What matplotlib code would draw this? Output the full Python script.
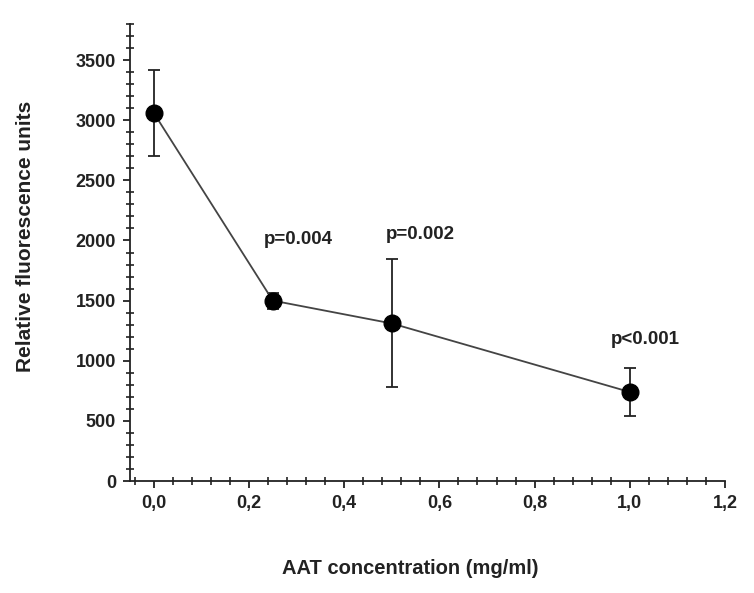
import matplotlib.pyplot as plt
from matplotlib.ticker import MultipleLocator, FuncFormatter

plt.rcParams['font.family'] = ['Liberation Sans', 'DejaVu Sans']
plt.rcParams['font.weight'] = 'bold'

conc = [0.0, 0.25, 0.5, 1.0]
rfu = [3060, 1500, 1310, 740]
err_low = [360, 70, 530, 200]
err_high = [355, 60, 540, 200]
p_labels = ['p=0.004', 'p=0.002', 'p<0.001']
p_x = [0.303, 0.559, 1.032]
p_y = [2008, 2050, 1175]

fig = plt.figure(figsize=(7.54, 5.93), dpi=100)
ax = fig.add_axes([130/754, 1-481/593, 595/754, 457/593])

ax.errorbar(conc, rfu, yerr=[err_low, err_high], fmt='-o', color='#444444',
            lw=1.3, ms=12, mfc='black', mec='black', ecolor='#222222',
            elinewidth=1.3, capsize=4.5, capthick=1.3, zorder=3)

for t, x, y in zip(p_labels, p_x, p_y):
    ax.text(x, y, t, ha='center', va='center', fontsize=13.5, fontweight='bold',
            color='#222222')

ax.set_xlim(-0.05, 1.2)
ax.set_ylim(0, 3800)
ax.xaxis.set_major_locator(MultipleLocator(0.2))
ax.xaxis.set_minor_locator(MultipleLocator(0.04))
ax.yaxis.set_major_locator(MultipleLocator(500))
ax.yaxis.set_minor_locator(MultipleLocator(100))
ax.xaxis.set_major_formatter(FuncFormatter(lambda v, p: f'{v:.1f}'.replace('.', ',')))

for s in ['top', 'right']:
    ax.spines[s].set_visible(False)
for s in ['left', 'bottom']:
    ax.spines[s].set_linewidth(1.3)
    ax.spines[s].set_color('#222222')

ax.tick_params(which='major', direction='out', length=5, width=1.3, labelsize=13,
               colors='#222222', pad=5)
ax.tick_params(which='minor', direction='inout', length=6, width=1.2, colors='#222222')
for lab in ax.get_xticklabels() + ax.get_yticklabels():
    lab.set_fontweight('bold')

ax.set_ylabel('Relative fluorescence units', fontsize=15, fontweight='bold',
              color='#222222')
ax.yaxis.set_label_coords(-0.16, 0.536)
ax.set_xlabel('AAT concentration (mg/ml)', fontsize=14.5, fontweight='bold',
              color='#222222')
ax.xaxis.set_label_coords(0.471, -0.171)

fig.savefig('out.png', dpi=100)
